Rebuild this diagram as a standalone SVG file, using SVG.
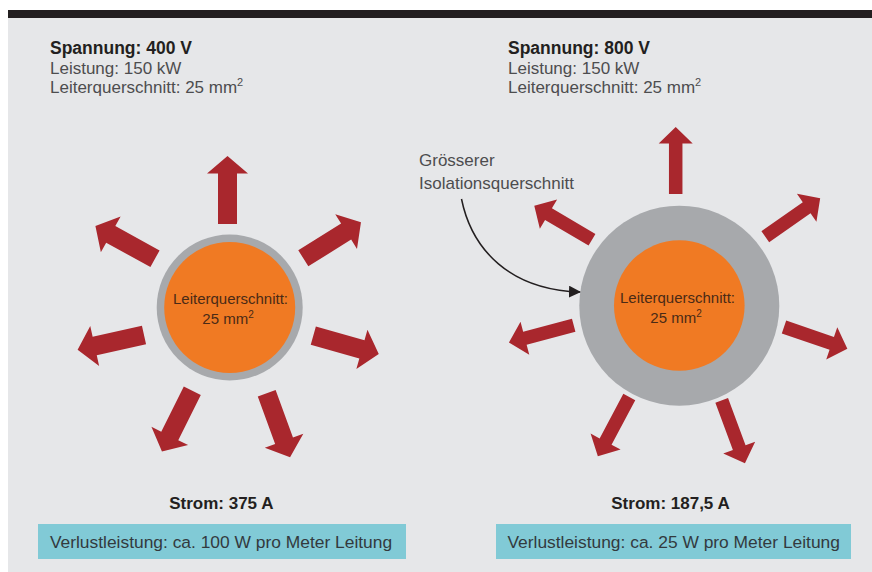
<svg xmlns="http://www.w3.org/2000/svg" width="872" height="572" viewBox="0 0 872 572">
<style>
.t{font-family:"Liberation Sans",Arial,sans-serif;}
.bold{font-weight:bold;font-size:17.5px;fill:#231f20;}
.reg{font-size:17px;fill:#4d4d4f;}
.ctext{font-size:15px;fill:#4a2a16;}
.loss{font-size:17.4px;fill:#333a3e;}
.strom{font-weight:bold;font-size:17px;fill:#231f20;}
.arrL,.arrR{fill:#a9272d;}
.ring{fill:#a7a9ac;}
.core{fill:#f07a23;}
.box{fill:#81cad6;}
</style>
<defs>
<path id="aL" d="M0,-9.5 H50.5 V-20.5 L68,0 L50.5,20.5 V9.5 H0 Z"/>
<path id="aR" d="M0,-6.75 H50.5 V-17 L67,0 L50.5,17 V6.75 H0 Z"/>
<marker id="mk" viewBox="0 0 12 12" refX="11" refY="6" markerWidth="12" markerHeight="12" markerUnits="userSpaceOnUse" orient="auto">
<path d="M0,0 L12,6 L0,12 Z" fill="#231f20"/>
</marker>
</defs>
<rect x="0" y="0" width="872" height="572" fill="#ffffff"/>
<rect x="8" y="10" width="864" height="562" fill="#e6e7e9"/>
<rect x="8" y="10" width="864" height="8" fill="#231f20"/>

<g id="left-header">
<text class="t bold" x="50" y="54">Spannung: 400 V</text>
<text class="t reg" x="50" y="73.5">Leistung: 150 kW</text>
<text class="t reg" x="50" y="93">Leiterquerschnitt: 25 mm<tspan dy="-7" font-size="11">2</tspan></text>
</g>

<g id="right-header">
<text class="t bold" x="508" y="54">Spannung: 800 V</text>
<text class="t reg" x="508" y="73.5">Leistung: 150 kW</text>
<text class="t reg" x="508" y="93">Leiterquerschnitt: 25 mm<tspan dy="-7" font-size="11">2</tspan></text>
</g>

<g id="left-cable">
<circle class="ring" cx="229.7" cy="307.5" r="73"/>
<circle class="core" cx="229.7" cy="307.5" r="65.5"/>
<text class="t ctext" x="230.5" y="304" text-anchor="middle">Leiterquerschnitt:</text>
<text class="t ctext" x="228" y="323.5" text-anchor="middle">25 mm<tspan dy="-6" font-size="10">2</tspan></text>
</g>

<g id="left-arrows" class="arrL">
<use href="#aL" transform="translate(227.5,224) rotate(-90)"/>
<use href="#aL" transform="translate(303.3,258.3) rotate(-32)"/>
<use href="#aL" transform="translate(313.3,335.7) rotate(15.7)"/>
<use href="#aL" transform="translate(266.7,393.3) rotate(69.9)"/>
<use href="#aL" transform="translate(192.3,390.7) rotate(116.5)"/>
<use href="#aL" transform="translate(144,335) rotate(167.5)"/>
<use href="#aL" transform="translate(155,258.7) rotate(208.8)"/>
</g>

<g id="right-cable">
<circle class="ring" cx="679.3" cy="305.7" r="100"/>
<circle class="core" cx="679.3" cy="305.5" r="65.3"/>
<text class="t ctext" x="677.5" y="302.7" text-anchor="middle">Leiterquerschnitt:</text>
<text class="t ctext" x="676" y="322.7" text-anchor="middle">25 mm<tspan dy="-6" font-size="10">2</tspan></text>
</g>

<g id="right-arrows" class="arrR">
<use href="#aR" transform="translate(675.7,194) rotate(-90)"/>
<use href="#aR" transform="translate(765.3,236.7) rotate(-35)"/>
<use href="#aR" transform="translate(784,327) rotate(19)"/>
<use href="#aR" transform="translate(721.7,400.3) rotate(69.7)"/>
<use href="#aR" transform="translate(629.3,397) rotate(118)"/>
<use href="#aR" transform="translate(573.7,325.3) rotate(165.1)"/>
<use href="#aR" transform="translate(592,239.7) rotate(210.5)"/>
</g>

<g id="annotation">
<text class="t reg" x="419" y="166" font-size="17.5">Grösserer</text>
<text class="t reg" x="419" y="188.5" font-size="17.5">Isolationsquerschnitt</text>
</g>

<g id="connectors">
<path d="M461.5,199 C472,250 510,290 580,292" fill="none" stroke="#231f20" stroke-width="1.5" marker-end="url(#mk)"/>
</g>

<g id="left-footer">
<text class="t strom" x="221.3" y="509" text-anchor="middle">Strom: 375 A</text>
<rect class="box" x="38" y="524" width="368" height="35"/>
<text class="t loss" x="221" y="548.3" text-anchor="middle">Verlustleistung: ca. 100 W pro Meter Leitung</text>
</g>

<g id="right-footer">
<text class="t strom" x="670.5" y="509" text-anchor="middle">Strom: 187,5 A</text>
<rect class="box" x="496" y="524" width="355" height="35"/>
<text class="t loss" x="673.7" y="548.3" text-anchor="middle">Verlustleistung: ca. 25 W pro Meter Leitung</text>
</g>
</svg>
